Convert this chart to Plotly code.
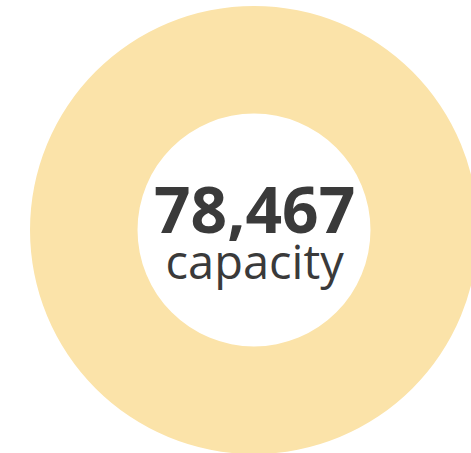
import plotly.graph_objects as go

labels = ["capacity"]
values = [78467]
center_label = "capacity"

W, H = 480, 456

fig = go.Figure(go.Pie(
    labels=labels,
    values=values,
    hole=0.52,
    sort=False,
    textinfo="none",
    hoverinfo="label+value",
    marker=dict(colors=["#FBE3A9"], line=dict(width=0)),
    domain=dict(x=[30 / W, 478 / W], y=[1 - 454 / H, 1 - 6 / H]),
    showlegend=False,
))

# big number and caption in the hole, one text block so lines don't collide
fig.add_annotation(
    x=254.5 / W, y=1 - 229 / H, xref="paper", yref="paper",
    text="<span style='font-size:64px'><b>{:,}</b></span><br>"
         "<span style='font-size:47px'>{}</span>".format(values[0], center_label),
    showarrow=False, align="center",
    font=dict(family="Open Sans", size=35, color="#3a3a3a"),
)

fig.update_layout(
    width=W, height=H,
    margin=dict(l=0, r=0, t=0, b=0),
    paper_bgcolor="white",
    plot_bgcolor="white",
)

fig.write_html(
    "out.html",
    config={"displayModeBar": False},
    post_script="document.body.style.margin='0';document.body.style.overflow='hidden';document.documentElement.style.overflow='hidden';",
)
